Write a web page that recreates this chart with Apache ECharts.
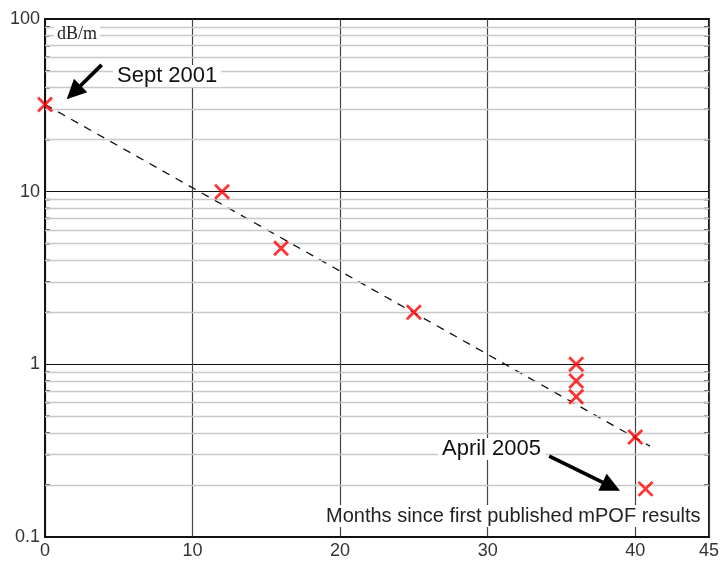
<!DOCTYPE html>
<html>
<head>
<meta charset="utf-8">
<script src="https://cdn.jsdelivr.net/npm/echarts@6/dist/echarts.min.js"></script>
<style>
  html, body { margin: 0; padding: 0; background: #fff; }
  #chart { width: 722px; height: 563px; }
</style>
</head>
<body>
<div id="chart"></div>
<script>
// Fibre loss history (dB/m) against months since first published mPOF results
const months = [0, 12, 16, 25, 36, 36, 36, 40, 40.7];
const loss = [32, 10, 4.7, 2.0, 1.0, 0.8, 0.65, 0.38, 0.19];

// Exponential trend: straight on the log axis between these two ends
const trendMonths = [0, 41];
const trendLoss = [32, 0.336];

// Axis ticks
const xTicks = [0, 10, 20, 30, 40, 45];
const yTickLabels = ['0.1', '1', '10', '100'];
const yMinorValues = [0.2, 0.3, 0.4, 0.5, 0.6, 0.7, 0.8, 0.9,
                      2, 3, 4, 5, 6, 7, 8, 9,
                      20, 30, 40, 50, 60, 70, 80, 90];

// Annotation arrows: [fromMonth, fromLoss, tipMonth, tipLoss]
const arrows = [
  [3.84, 54.2, 1.47, 34.3],
  [34.17, 0.294, 38.97, 0.185]
];

const chart = echarts.init(document.getElementById('chart'), null, { renderer: 'canvas' });

const font = '"Liberation Sans", Arial, sans-serif';

const option = {
  animation: false,
  backgroundColor: '#fff',
  grid: {
    left: 45, top: 19, right: 12, bottom: 26,
    show: true, borderColor: '#111', borderWidth: 2,
    backgroundColor: 'transparent'
  },
  xAxis: {
    type: 'value',
    min: 0, max: 45, interval: 10,
    axisLine: { show: true, lineStyle: { color: '#111', width: 2 } },
    axisTick: { show: false },
    axisLabel: {
      color: '#333', fontSize: 18, fontFamily: font, margin: 5,
      showMaxLabel: true,
      formatter: v => (xTicks.indexOf(v) >= 0 ? String(v) : '')
    },
    splitLine: { show: true, lineStyle: { color: '#444', width: 1.2 } }
  },
  yAxis: {
    type: 'log', logBase: 10,
    min: 0.1, max: 100,
    axisLine: { show: true, lineStyle: { color: '#111', width: 2 } },
    axisTick: { show: false },
    axisLabel: {
      color: '#333', fontSize: 18, fontFamily: font, margin: 5,
      formatter: v => {
        const idx = Math.round(Math.log10(v)) + 1;
        return yTickLabels[idx] !== undefined ? yTickLabels[idx] : '';
      }
    },
    splitLine: { show: true, lineStyle: { color: '#111', width: 1 } }
  },
  series: [
    {
      // light minor grid lines between decades
      type: 'line',
      data: [],
      silent: true,
      z: 1,
      markLine: {
        silent: true,
        symbol: 'none',
        animation: false,
        label: { show: false },
        lineStyle: { color: '#c8c8c8', width: 1.3, type: 'solid' },
        data: yMinorValues.map(v => ({ yAxis: v }))
      }
    },
    {
      // short inward minor ticks on the left and right frame
      type: 'custom',
      silent: true,
      z: 3,
      data: yMinorValues.map(v => [0, v]),
      encode: { x: 0, y: 1 },
      renderItem: (params, api) => {
        const v = api.value(1);
        const pl = api.coord([0, v]);
        const pr = api.coord([45, v]);
        const style = { stroke: '#222', lineWidth: 1.5 };
        return {
          type: 'group',
          children: [
            { type: 'line', shape: { x1: pl[0], y1: pl[1], x2: pl[0] + 5, y2: pl[1] }, style },
            { type: 'line', shape: { x1: pr[0] - 5, y1: pr[1], x2: pr[0], y2: pr[1] }, style }
          ]
        };
      }
    },
    {
      // dashed trend
      type: 'line',
      data: trendMonths.map((m, i) => [m, trendLoss[i]]),
      showSymbol: false,
      silent: true,
      z: 4,
      lineStyle: { color: '#111', width: 1.3, type: [8, 7] }
    },
    {
      // measured loss values
      type: 'scatter',
      data: months.map((m, i) => [m, loss[i]]),
      symbol: 'path://M0,0L10,10M10,0L0,10',
      symbolSize: 14,
      z: 5,
      itemStyle: { color: 'rgba(0,0,0,0)', borderColor: '#ff0000', borderWidth: 2.8 }
    },
    {
      // annotation arrows
      type: 'custom',
      silent: true,
      z: 6,
      data: arrows,
      encode: { x: [0, 2], y: [1, 3] },
      renderItem: (params, api) => {
        const a = api.coord([api.value(0), api.value(1)]);
        const b = api.coord([api.value(2), api.value(3)]);
        const dx = b[0] - a[0], dy = b[1] - a[1];
        const len = Math.sqrt(dx * dx + dy * dy);
        const ux = dx / len, uy = dy / len;
        const headLen = 19.5, headHalf = 9.5;
        const bx = b[0] - ux * headLen, by = b[1] - uy * headLen;
        return {
          type: 'group',
          children: [
            { type: 'line', shape: { x1: a[0], y1: a[1], x2: bx + ux * 2, y2: by + uy * 2 },
              style: { stroke: '#000', lineWidth: 3.8 } },
            { type: 'polygon',
              shape: { points: [[b[0], b[1]],
                                [bx - uy * headHalf, by + ux * headHalf],
                                [bx + uy * headHalf, by - ux * headHalf]] },
              style: { fill: '#000' } }
          ]
        };
      }
    }
  ],
  graphic: [
    {
      type: 'text', left: 54, top: 25, z: 10,
      style: { text: 'dB/m', font: '18px "Liberation Serif", "Times New Roman", serif',
               fill: '#222', backgroundColor: '#fff', padding: [0, 3] }
    },
    {
      type: 'text', left: 113, top: 65, z: 10,
      style: { text: 'Sept 2001', font: '22px ' + font, fill: '#111',
               backgroundColor: '#fff', padding: [0, 4] }
    },
    {
      type: 'text', left: 438, top: 438, z: 10,
      style: { text: 'April 2005', font: '22px ' + font, fill: '#111',
               backgroundColor: '#fff', padding: [0, 4] }
    },
    {
      type: 'text', left: 324, top: 505, z: 10,
      style: { text: 'Months since first published mPOF results', font: '20px ' + font,
               fill: '#222', backgroundColor: '#fff', padding: [1, 2] }
    }
  ]
};

chart.setOption(option);
</script>
</body>
</html>
